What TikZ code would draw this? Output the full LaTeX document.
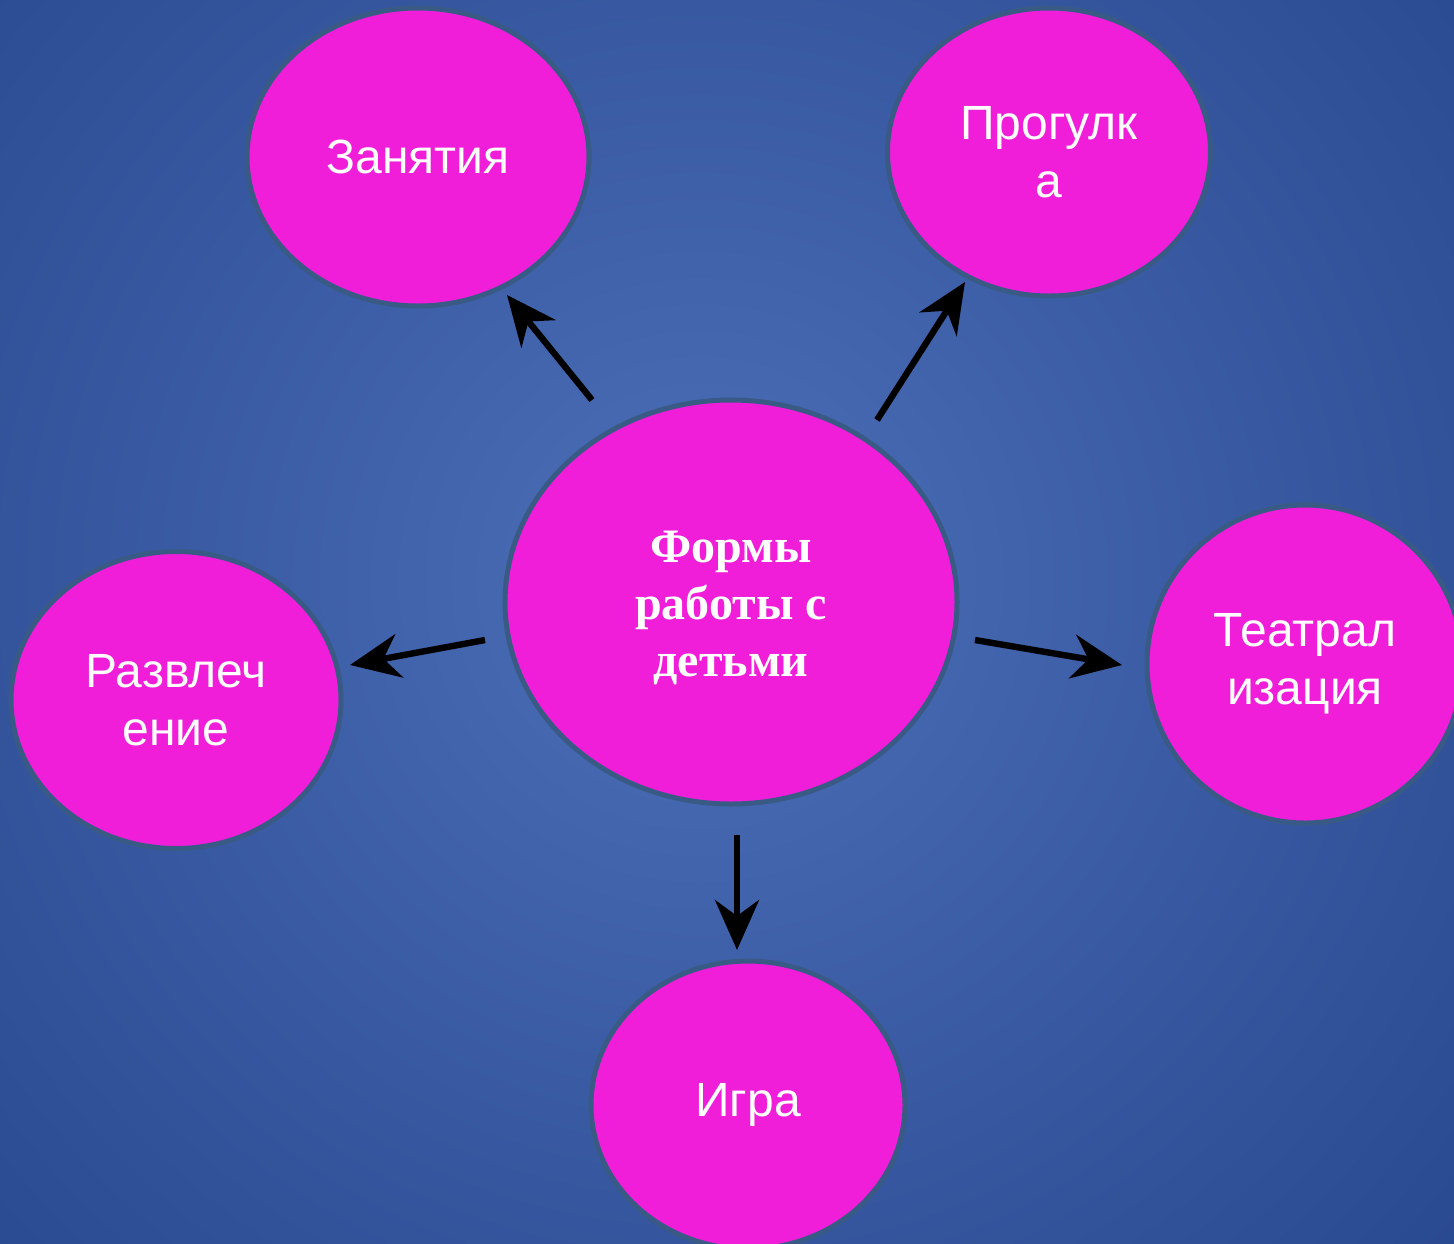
\documentclass[tikz,border=0pt]{standalone}
\usepackage{fontspec}
\setmainfont{Liberation Serif}
\setsansfont{Liberation Sans}
\usetikzlibrary{shapes.geometric,arrows.meta}
\definecolor{bgin}{RGB}{76,111,184}
\definecolor{bgout}{RGB}{22,52,122}
\definecolor{blob}{RGB}{240,30,216}
\definecolor{rim}{RGB}{58,90,134}
\tikzset{
  blobnode/.style={ellipse, fill=blob, draw=rim, line width=2.5pt, inner sep=0pt,
    text=white, align=center, font=\sffamily\fontsize{24}{29}\selectfont},
  arr/.style={line width=3.2pt, -{Stealth[length=25pt,width=22pt,inset=8pt]}, black},
}
\begin{document}
\begin{tikzpicture}[x=0.5pt,y=-0.5pt]
\useasboundingbox (0,0) rectangle (1454,1243);
\begin{scope}
\clip (0,0) rectangle (1454,1243);
\shade[inner color=bgin, outer color=bgout] (700,580) circle (1550);
\end{scope}

\node[blobnode, minimum width=452*0.5pt, minimum height=404*0.5pt] (c) at (731,602) {};
\node[text=white, align=center, font=\rmfamily\bfseries\fontsize{24}{28.5}\selectfont] (ct) at (731,608) {Формы\\работы с\\детьми};
\node[blobnode, minimum width=342*0.5pt, minimum height=298*0.5pt] (zan) at (418,157) {Занятия};
\node[blobnode, minimum width=323*0.5pt, minimum height=288*0.5pt] (pro) at (1049,152) {Прогулк\\а};
\node[blobnode, minimum width=330*0.5pt, minimum height=297*0.5pt] (raz) at (176,700) {Развлеч\\ение};
\node[blobnode, minimum width=316*0.5pt, minimum height=318*0.5pt] (tea) at (1305,664) {Театрал\\изация};
\node[blobnode, minimum width=314*0.5pt, minimum height=288*0.5pt] (igr) at (748,1105) {Игра};

\coordinate (s1) at (592,400); \coordinate (e1) at (507,295);
\coordinate (s2) at (877,420); \coordinate (e2) at (965,282);
\coordinate (s3) at (485,640); \coordinate (e3) at (350,665);
\coordinate (s4) at (975,640); \coordinate (e4) at (1122,665);
\coordinate (s5) at (737,835); \coordinate (e5) at (737,950);
\draw[arr] (s1) -- (e1);
\draw[arr] (s2) -- (e2);
\draw[arr] (s3) -- (e3);
\draw[arr] (s4) -- (e4);
\draw[arr] (s5) -- (e5);
\end{tikzpicture}
\end{document}
